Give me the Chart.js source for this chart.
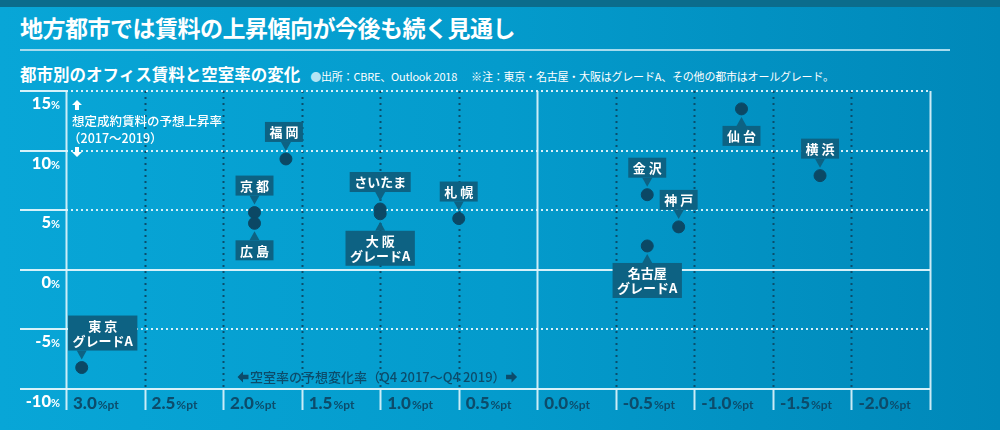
<!DOCTYPE html>
<html lang="ja">
<head>
<meta charset="UTF-8">
<title>都市別のオフィス賃料と空室率の変化</title>
<script src="https://cdn.jsdelivr.net/npm/chart.js@4/dist/chart.umd.min.js"></script>
<style>
    * { margin: 0; padding: 0; box-sizing: border-box; }
    body {
        width: 1000px; height: 430px; overflow: hidden;
        background: linear-gradient(90deg, #08a6d7 0%, #049bcc 50%, #0088b9 100%);
        font-family: "Noto Sans CJK JP", "Noto Sans", sans-serif;
        position: relative;
    }
    .topbar { position: absolute; left: 0; top: 0; width: 1000px; height: 7px; background: #0b6c8c; }
    .title {
        position: absolute; left: 20px; top: 10px;
        color: #fff; font-size: 23px; font-weight: 700; letter-spacing: -0.5px;
    }
    .rule { position: absolute; left: 20px; top: 49px; width: 930px; height: 2px; background: #a6dbee; }
    .sub {
        position: absolute; left: 20px; top: 62px;
        color: #fff; font-size: 16.5px; font-weight: 700; white-space: nowrap;
    }
    .sub .note { font-size: 11px; font-weight: 400; margin-left: 10px; letter-spacing: -0.2px; }
    .sub .dot { color: #b5e4f4; }
    canvas { position: absolute; left: 0; top: 0; }
</style>
</head>
<body>
<div class="topbar"></div>
<div class="title">地方都市では賃料の上昇傾向が今後も続く見通し</div>
<div class="rule"></div>
<div class="sub">都市別のオフィス賃料と空室率の変化<span class="note"><span class="dot">●</span>出所：CBRE、Outlook 2018</span><span class="note" style="margin-left:14px">※注：東京・名古屋・大阪はグレードA、その他の都市はオールグレード。</span></div>
<canvas id="chart" width="1000" height="430"></canvas>

<script>
    // data
    const cities = ['東京', '福岡', '京都', '広島', 'さいたま', '大阪', '札幌', '仙台', '横浜', '金沢', '神戸', '名古屋'];
    const vacancyChange = [2.9, 1.6, 1.8, 1.8, 1.0, 1.0, 0.5, -1.3, -1.8, -0.7, -0.9, -0.7];   // %pt, Q4 2017 -> Q4 2019
    const rentGrowth = [-8.2, 9.3, 4.8, 3.9, 5.1, 4.7, 4.3, 13.5, 7.9, 6.3, 3.6, 2.0];        // %, 2017 -> 2019
    const xTicks = [3.0, 2.5, 2.0, 1.5, 1.0, 0.5, 0.0, -0.5, -1.0, -1.5, -2.0];
    const yTicks = [15, 10, 5, 0, -5, -10];

    // how each callout is drawn (text lines, side of the dot, horizontal shift of the box)
    const callouts = [
        { lines: ['東 京', 'グレードA'], side: 'up', dx: 21 },
        { lines: ['福 岡'], side: 'up', dx: -2 },
        { lines: ['京 都'], side: 'up', dx: 0 },
        { lines: ['広 島'], side: 'down', dx: 0 },
        { lines: ['さいたま'], side: 'up', dx: 0 },
        { lines: ['大 阪', 'グレードA'], side: 'down', dx: 0 },
        { lines: ['札 幌'], side: 'up', dx: 0 },
        { lines: ['仙 台'], side: 'down', dx: 0 },
        { lines: ['横 浜'], side: 'up', dx: 0 },
        { lines: ['金 沢'], side: 'up', dx: 0 },
        { lines: ['神 戸'], side: 'up', dx: 0 },
        { lines: ['名古屋', 'グレードA'], side: 'down', dx: 0 }
    ];

    const JP = '"Noto Sans CJK JP", sans-serif';
    const NUM = 'Lato, "Noto Sans", sans-serif';
    const navy = '#0c4c6b';
    const boxColor = '#0d6283';

    function blockArrow(ctx, x, y, dir, size) {
        // small solid arrow, (x, y) is its centre
        const s = size;
        ctx.save();
        ctx.translate(x, y);
        ctx.rotate({ up: 0, down: Math.PI, left: -Math.PI / 2, right: Math.PI / 2 }[dir]);
        ctx.beginPath();
        ctx.moveTo(0, -s / 2);
        ctx.lineTo(s / 2, 0);
        ctx.lineTo(s / 5, 0);
        ctx.lineTo(s / 5, s / 2);
        ctx.lineTo(-s / 5, s / 2);
        ctx.lineTo(-s / 5, 0);
        ctx.lineTo(-s / 2, 0);
        ctx.closePath();
        ctx.fill();
        ctx.restore();
    }

    const gridPlugin = {
        id: 'grid',
        beforeDatasetsDraw(chart) {
            const { ctx, chartArea: a, scales: { x, y } } = chart;
            const bottomExt = a.bottom + 21;
            ctx.save();

            // vertical lines
            xTicks.concat([-2.5]).forEach(v => {
                const px = Math.round(x.getPixelForValue(v)) + 0.5;
                const edge = v === 3.0 || v === -2.5 || v === 0;
                ctx.beginPath();
                if (edge) {
                    ctx.strokeStyle = 'rgba(225,245,252,0.9)';
                    ctx.lineWidth = 2;
                    ctx.setLineDash([]);
                    ctx.moveTo(px, a.top);
                    ctx.lineTo(px, bottomExt);
                    ctx.stroke();
                } else {
                    ctx.strokeStyle = '#0a4e6d';
                    ctx.lineWidth = 2;
                    ctx.setLineDash([2, 4]);
                    ctx.moveTo(px, a.top);
                    ctx.lineTo(px, a.bottom);
                    ctx.stroke();
                    ctx.beginPath();
                    ctx.setLineDash([]);
                    ctx.strokeStyle = 'rgba(225,245,252,0.9)';
                    ctx.moveTo(px, a.bottom);
                    ctx.lineTo(px, bottomExt);
                    ctx.stroke();
                }
            });

            // horizontal lines
            yTicks.forEach(v => {
                const py = Math.round(y.getPixelForValue(v));
                ctx.strokeStyle = 'rgba(225,245,252,0.95)';
                ctx.lineWidth = 2;
                ctx.setLineDash([]);
                ctx.beginPath();
                ctx.moveTo(20, py);
                ctx.lineTo(a.left, py);
                ctx.stroke();
                ctx.beginPath();
                ctx.setLineDash(v === 0 || v === -10 ? [] : [2, 3]);
                ctx.moveTo(a.left, py);
                ctx.lineTo(a.right, py);
                ctx.stroke();
            });
            ctx.setLineDash([]);

            // y tick labels: big number, small %
            ctx.fillStyle = '#fff';
            ctx.textBaseline = 'alphabetic';
            yTicks.forEach(v => {
                const py = y.getPixelForValue(v) + 18;
                ctx.font = '700 11px ' + NUM;
                const pw = ctx.measureText('%').width;
                ctx.textAlign = 'right';
                ctx.fillText('%', 60, py);
                ctx.font = '900 16.5px ' + NUM;
                ctx.fillText(String(v), 60 - pw, py);
            });

            // x tick labels
            ctx.fillStyle = navy;
            ctx.textAlign = 'left';
            xTicks.forEach(v => {
                const px = x.getPixelForValue(v) + 7;
                const py = a.bottom + 20;
                ctx.font = '900 17px ' + NUM;
                const t = v.toFixed(1);
                ctx.fillText(t, px, py);
                const w = ctx.measureText(t).width;
                ctx.font = '700 12px ' + NUM;
                ctx.fillText('%pt', px + w + 1, py);
            });

            // axis captions
            ctx.fillStyle = '#fff';
            ctx.font = '500 12.5px ' + JP;
            ctx.fillText('想定成約賃料の予想上昇率', a.left + 6, 126);
            ctx.fillText('（2017〜2019）', a.left + 2, 143);
            blockArrow(ctx, a.left + 11, 105, 'up', 10);
            blockArrow(ctx, a.left + 11, 152, 'down', 10);

            ctx.fillStyle = navy;
            ctx.font = '500 13px ' + JP;
            const cap = '空室率の予想変化率（Q4 2017〜Q4 2019）';
            const cx = 250;
            ctx.fillText(cap, cx, 382);
            const cw = ctx.measureText(cap).width;
            blockArrow(ctx, cx - 7, 377, 'left', 11);
            blockArrow(ctx, cx + cw + 6, 377, 'right', 11);
            ctx.restore();
        }
    };

    const calloutPlugin = {
        id: 'callouts',
        afterDatasetsDraw(chart) {
            const { ctx } = chart;
            const pts = chart.getDatasetMeta(0).data;
            ctx.save();
            ctx.font = '700 13px ' + JP;
            pts.forEach((p, i) => {
                const c = callouts[i];
                const lineH = 15;
                const w = Math.max(...c.lines.map(l => ctx.measureText(l).width)) + 9;
                const h = c.lines.length * lineH + 5;
                const gap = 17;
                const bx = p.x + c.dx - w / 2;
                const by = c.side === 'up' ? p.y - gap - h : p.y + gap;
                const edge = c.side === 'up' ? by + h : by;
                const tip = c.side === 'up' ? edge + 9 : edge - 9;

                ctx.fillStyle = boxColor;
                ctx.fillRect(bx, by, w, h);
                ctx.beginPath();
                ctx.moveTo(p.x - 5, edge);
                ctx.lineTo(p.x + 5, edge);
                ctx.lineTo(p.x, tip);
                ctx.closePath();
                ctx.fill();

                ctx.fillStyle = '#fff';
                ctx.textAlign = 'center';
                ctx.textBaseline = 'middle';
                c.lines.forEach((l, k) => {
                    ctx.fillText(l, bx + w / 2, by + 3 + lineH / 2 + k * lineH);
                });
            });
            ctx.restore();
        }
    };

    new Chart(document.getElementById('chart'), {
        type: 'scatter',
        data: {
            datasets: [{
                label: '都市',
                data: vacancyChange.map((v, i) => ({ x: v, y: rentGrowth[i] })),
                backgroundColor: '#0b4865',
                borderColor: '#0b4865',
                pointRadius: 6,
                pointHoverRadius: 6
            }]
        },
        options: {
            responsive: false,
            animation: false,
            devicePixelRatio: 1,
            layout: { padding: { left: 66, right: 70, top: 91, bottom: 41 } },
            scales: {
                x: { type: 'linear', min: -2.5, max: 3.0, reverse: true, display: false },
                y: { type: 'linear', min: -10, max: 15, display: false }
            },
            plugins: {
                legend: { display: false },
                tooltip: { enabled: false }
            }
        },
        plugins: [gridPlugin, calloutPlugin]
    });
</script>
</body>
</html>
